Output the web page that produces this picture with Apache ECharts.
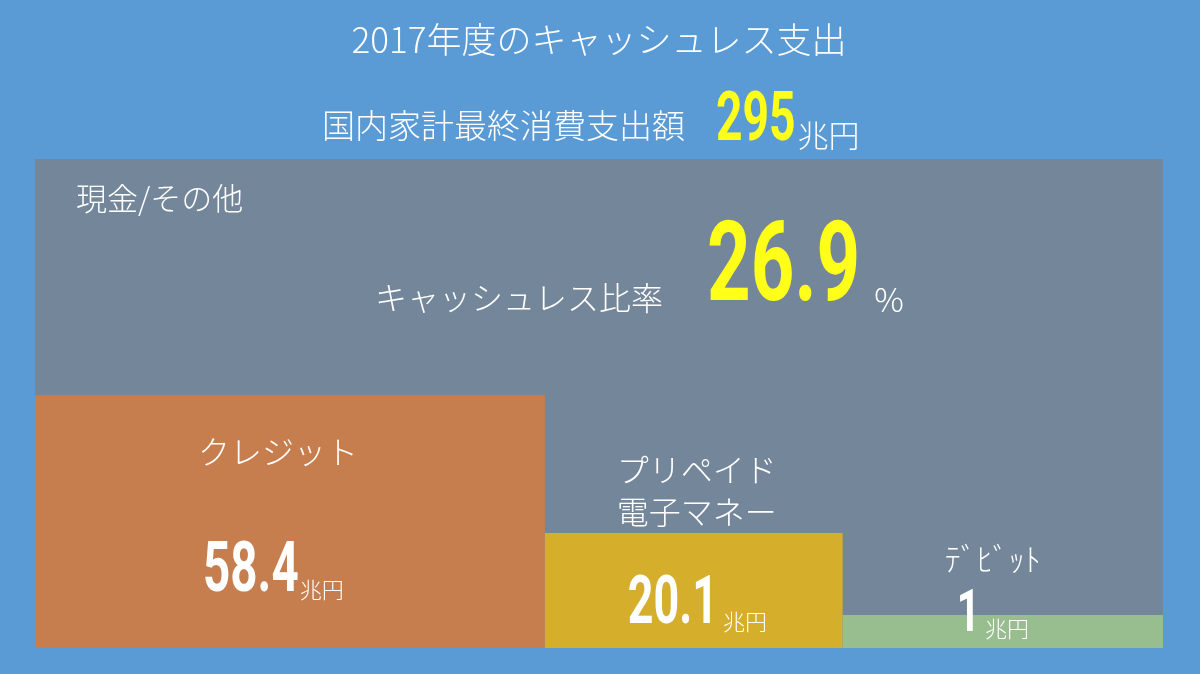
<!DOCTYPE html>
<html><head><meta charset="utf-8">
<script src="https://cdn.jsdelivr.net/npm/echarts@6/dist/echarts.min.js"></script>
<style>html,body{margin:0;padding:0;background:#5B9BD5;}#c{width:1200px;height:674px;}</style>
</head><body><div id="c"></div>
<script>
// ---- data ----
const titleText = '2017年度のキャッシュレス支出';
const totalLabel = '国内家計最終消費支出額';
const totalValue = 295;
const otherLabel = '現金/その他';
const ratioLabel = 'キャッシュレス比率';
const cashlessRatio = 26.9;
const categories = ['クレジット', 'プリペイド\n電子マネー', 'ﾃﾞﾋﾞｯﾄ'];
const values = [58.4, 20.1, 1];
const unit = '兆円';

// ---- layout (share of drawing area, not data) ----
const blockSpan = [45.2, 26.4, 28.4];
const blockHeight = [51.7, 23.5, 6.75];
const blockColors = ['#74869A', '#C77E4F', '#D5AE2B', '#98BE8F'];

const JP = '"Noto Sans CJK JP", sans-serif';
const NUM_SCALE = 0.68;
const ctx = document.createElement('canvas').getContext('2d');
function numW(str, size) { ctx.font = 'bold ' + size + 'px Roboto'; return ctx.measureText(str).width * NUM_SCALE; }

function jpText(text, x, y, size, align, extra) {
  return Object.assign({
    type: 'text', x: x, y: y, silent: true,
    style: { text: text, x: 0, y: 0, fill: '#fff', fontFamily: JP, fontWeight: 300, fontSize: size,
      align: align || 'left', textAlign: align || 'left', verticalAlign: 'middle', textVerticalAlign: 'middle' }
  }, extra || {});
}
function numberWithUnit(x, capY, numStr, numSize, unitStr, unitSize, gap, color) {
  const baseline = capY + 0.355 * numSize;
  return [
    { type: 'text', x: x, y: capY, scaleX: NUM_SCALE, silent: true,
      style: { text: numStr, x: 0, y: 0, fill: color || '#fff', fontFamily: 'Roboto', fontWeight: 'bold', fontSize: numSize,
        align: 'left', textAlign: 'left', verticalAlign: 'middle', textVerticalAlign: 'middle' } },
    jpText(unitStr, x + numW(numStr, numSize) + gap, baseline - 0.38 * unitSize, unitSize, 'left')
  ];
}

const data = [[0, 100, 100, 0]];
let acc = 0;
blockSpan.forEach(function (w, k) { data.push([acc, acc + w, blockHeight[k], k + 1]); acc += w; });

function renderItem(params, api) {
  const i = api.value(3);
  const p0 = api.coord([api.value(0), api.value(2)]);
  const p1 = api.coord([api.value(1), 0]);
  const L = p0[0], T = p0[1], W = p1[0] - p0[0], H = p1[1] - p0[1];
  const children = [{ type: 'rect', shape: { x: L, y: T, width: W, height: H }, style: { fill: blockColors[i] } }];
  if (i === 0) {
    children.push(jpText(otherLabel, L + 41, T + 39, 31, 'left'));
    children.push(jpText(ratioLabel, L + 340, T + 139, 32, 'left'));
    children.push.apply(children, numberWithUnit(L + 672, T + 113, cashlessRatio.toFixed(1), 112, '%', 33, 14, '#FFFF1A'));
  } else if (i === 1) {
    children.push(jpText(categories[0], L + 243, T + 57, 32, 'center'));
    children.push.apply(children, numberWithUnit(L + 168, T + 178, values[0].toFixed(1), 70, unit, 22, 1));
  } else if (i === 2) {
    const t = jpText(categories[1], L + 152, T - 42, 32, 'center');
    t.style.lineHeight = 42;
    children.push(t);
    children.push.apply(children, numberWithUnit(L + 83, T + 73, values[1].toFixed(1), 66, unit, 22, 5));
  } else {
    children.push(jpText(categories[2], L + 150, T - 56, 32, 'center'));
    children.push.apply(children, numberWithUnit(L + 114, T + 1, String(values[2]), 60, unit, 22, 5));
  }
  return { type: 'group', children: children };
}

const chart = echarts.init(document.getElementById('c'));
chart.setOption({
  backgroundColor: '#5B9BD5',
  animation: false,
  grid: { left: 35, right: 37, top: 159, bottom: 26 },
  xAxis: { type: 'value', min: 0, max: 100, show: false },
  yAxis: { type: 'value', min: 0, max: 100, show: false },
  graphic: [
    jpText(titleText, 599, 40, 35, 'center'),
    jpText(totalLabel, 322, 125, 33, 'left')
  ].concat(numberWithUnit(716, 123, String(totalValue), 68, unit, 31, 2, '#FFFF1A')),
  series: [{ type: 'custom', renderItem: renderItem, data: data, silent: true }]
});
</script></body></html>
